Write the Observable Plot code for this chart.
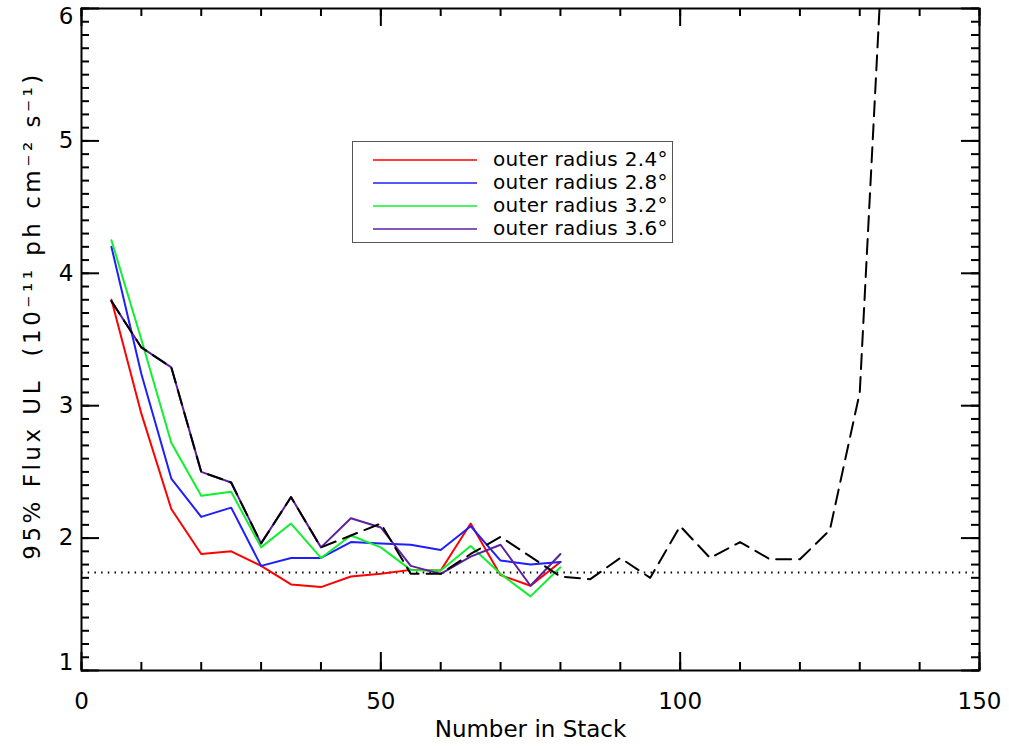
<!DOCTYPE html>
<html>
<head>
<meta charset="utf-8">
<script src="https://cdn.jsdelivr.net/npm/d3@7"></script>
<script src="https://cdn.jsdelivr.net/npm/@observablehq/plot@0.6"></script>
<style>
  body { margin: 0; background: #fff; }
  #wrap { position: relative; width: 1009px; height: 748px; }
  #legend { position: absolute; left: 352px; top: 141px; width: 321px; height: 102px;
            border: 1px solid #555; background: #fff; box-sizing: border-box;
            font-family: "DejaVu Sans", sans-serif; font-size: 20px; color: #000; }
  .row { position: absolute; left: 0; width: 100%; height: 23px; }
  .sw { position: absolute; left: 20px; width: 104px; top: 11px; height: 0; border-top: 2px solid; }
  .lab { position: absolute; left: 140px; top: 0; line-height: 23px; white-space: nowrap; letter-spacing: 0.3px; }
</style>
</head>
<body>
<div id="wrap"></div>
<script>
// ---- data ----
const stackN = [5, 10, 15, 20, 25, 30, 35, 40, 45, 50, 55, 60, 65, 70, 75, 80];
const radius24 = [3.80, 2.94, 2.22, 1.88, 1.90, 1.79, 1.65, 1.63, 1.71, 1.73, 1.76, 1.755, 2.11, 1.72, 1.64, 1.82];
const radius28 = [4.20, 3.24, 2.45, 2.16, 2.23, 1.79, 1.85, 1.85, 1.97, 1.96, 1.95, 1.91, 2.09, 1.83, 1.80, 1.82];
const radius32 = [4.25, 3.50, 2.72, 2.32, 2.35, 1.93, 2.11, 1.85, 2.02, 1.93, 1.76, 1.755, 1.94, 1.73, 1.56, 1.78];
const radius36 = [3.79, 3.44, 3.29, 2.50, 2.42, 1.96, 2.31, 1.93, 2.15, 2.08, 1.79, 1.73, 1.86, 1.95, 1.64, 1.88];

const allN = [5, 10, 15, 20, 25, 30, 35, 40, 45, 50, 55, 60, 65, 70, 75, 80, 85, 90, 95, 100, 105, 110, 115, 120, 125, 130, 135];
const allFlux = [3.79, 3.44, 3.29, 2.50, 2.42, 1.96, 2.31, 1.93, 2.02, 2.11, 1.73, 1.73, 1.88, 2.01, 1.86, 1.71, 1.69, 1.85, 1.70, 2.09, 1.85, 1.97, 1.84, 1.84, 2.06, 3.10, 7.50];

const sensitivityLevel = 1.74;

const seriesNames = ["outer radius 2.4°", "outer radius 2.8°", "outer radius 3.2°", "outer radius 3.6°"];
const seriesColors = ["#ff0000", "#1e1eff", "#10f030", "#5e1f9e"];
const seriesValues = [radius24, radius28, radius32, radius36];

const xTickValues = [0, 50, 100, 150];
const yTickValues = [1, 2, 3, 4, 5, 6];
const xLabel = "Number in Stack";
const yLabel = "95% Flux UL  (10\u207B\u00B9\u00B9 ph cm\u207B\u00B2 s\u207B\u00B9)";

// ---- layout ----
const W = 1009, H = 748;
const mL = 81, mR = 30, mT = 8, mB = 78;
const pw = W - mL - mR, ph = H - mT - mB;
const majorLen = 18, minorLen = 8;

const xMinor = d3.range(0, 151, 10);
const yMinor = d3.range(10, 61, 1).map(d => d / 10);

const rows = [];
seriesValues.forEach((vals, i) => vals.forEach((v, j) => rows.push({n: stackN[j], v, s: i})));
const dashedRows = allN.map((n, i) => ({n, v: allFlux[i]}));

const lineMarks = seriesValues.map((vals, i) =>
  Plot.line(rows.filter(r => r.s === i), {x: "n", y: "v", stroke: seriesColors[i], strokeWidth: 2})
);

const chart = Plot.plot({
  width: W, height: H,
  marginLeft: mL, marginRight: mR, marginTop: mT, marginBottom: mB,
  x: {domain: [0, 150]},
  y: {domain: [1, 6]},
  style: {fontFamily: "DejaVu Sans, sans-serif", fontSize: "23px", color: "#000", background: "#fff"},
  marks: [
    Plot.ruleY([sensitivityLevel], {stroke: "#000", strokeWidth: 2, strokeDasharray: "1.5,5.2"}),
    ...lineMarks,
    Plot.line(dashedRows, {x: "n", y: "v", stroke: "#000", strokeWidth: 2, strokeDasharray: "15,8", clip: true}),
    // ticks (inward, on all four sides)
    Plot.tickX(xTickValues, {x: d => d, insetTop: ph - majorLen, strokeWidth: 2}),
    Plot.tickX(xTickValues, {x: d => d, insetBottom: ph - majorLen, strokeWidth: 2}),
    Plot.tickX(xMinor, {x: d => d, insetTop: ph - minorLen, strokeWidth: 2}),
    Plot.tickX(xMinor, {x: d => d, insetBottom: ph - minorLen, strokeWidth: 2}),
    Plot.tickY(yTickValues, {y: d => d, insetRight: pw - majorLen, strokeWidth: 2}),
    Plot.tickY(yTickValues, {y: d => d, insetLeft: pw - majorLen, strokeWidth: 2}),
    Plot.tickY(yMinor, {y: d => d, insetRight: pw - minorLen, strokeWidth: 2}),
    Plot.tickY(yMinor, {y: d => d, insetLeft: pw - minorLen, strokeWidth: 2}),
    Plot.frame({stroke: "#000", strokeWidth: 2}),
    // tick labels
    Plot.axisX({ticks: xTickValues, tickSize: 0, tickPadding: 22, tickFormat: d => String(d), label: null, fontSize: 23}),
    Plot.axisY({ticks: yTickValues.slice(1, -1), tickSize: 0, tickPadding: 8, tickFormat: d => String(d), label: null, fontSize: 23}),
    Plot.axisY({ticks: [yTickValues[0]], tickSize: 0, tickPadding: 8, tickFormat: d => String(d), label: null, fontSize: 23, dy: -8}),
    Plot.axisY({ticks: [yTickValues[yTickValues.length - 1]], tickSize: 0, tickPadding: 8, tickFormat: d => String(d), label: null, fontSize: 23, dy: 8}),
    // axis titles
    Plot.text([xLabel], {text: d => d, frameAnchor: "bottom", dy: 66, fontSize: 23}),
    Plot.text([yLabel], {text: d => d, frameAnchor: "left", textAnchor: "middle", rotate: -90, dx: -49, dy: -24, fontSize: 23})
  ]
});

const wrap = document.getElementById("wrap");
wrap.appendChild(chart);
// wider letter spacing on the rotated y title (as in the reference)
chart.querySelectorAll("text").forEach(t => { if (t.textContent === yLabel) t.setAttribute("letter-spacing", "3.5"); });

// legend
const legend = document.createElement("div");
legend.id = "legend";
seriesNames.forEach((name, i) => {
  const row = document.createElement("div");
  row.className = "row";
  row.style.top = (6 + i * 23) + "px";
  const sw = document.createElement("div");
  sw.className = "sw";
  sw.style.borderTopColor = seriesColors[i];
  sw.style.opacity = "0.75";
  const lab = document.createElement("div");
  lab.className = "lab";
  lab.textContent = name;
  row.appendChild(sw);
  row.appendChild(lab);
  legend.appendChild(row);
});
wrap.appendChild(legend);
</script>
</body>
</html>
